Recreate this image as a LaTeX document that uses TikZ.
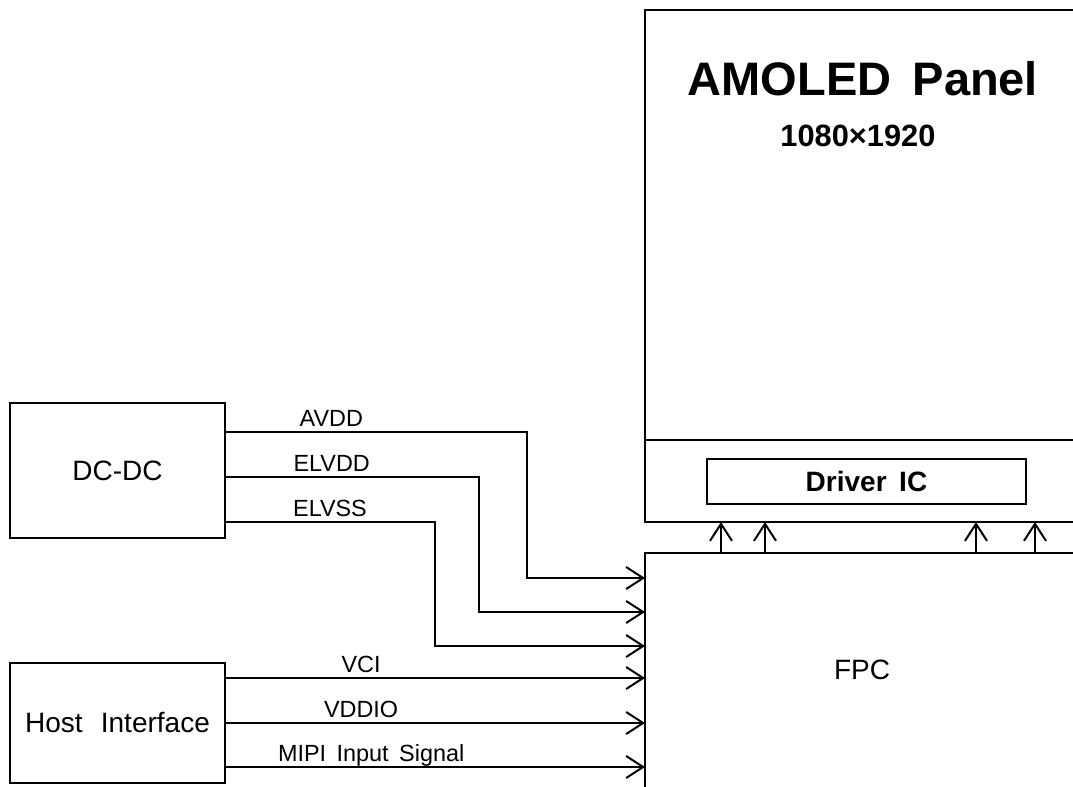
\documentclass[tikz,border=0pt]{standalone}
\usepackage{fontspec}
\setmainfont{Liberation Sans}
\usetikzlibrary{arrows.meta}

\newcommand{\wordgap}{\hspace{0.45em}}
\newcommand{\lblfont}{\fontsize{11.7}{14}\selectfont}
\newcommand{\boxfont}{\fontsize{14}{17}\selectfont}

\begin{document}
\begin{tikzpicture}[x=0.5pt,y=-0.5pt,
    box/.style={draw,rectangle,line width=1pt,inner sep=0pt,outer sep=0pt,font=\boxfont},
    feed/.style={line width=1pt,-{Straight Barb[length=8.5pt,width=11pt]}},
    sig/.style={above,inner sep=2.5pt,text depth=0pt,font=\lblfont}]
  \useasboundingbox (0,0) rectangle (1073,787);

  % panel and fpc run off the right edge
  \node[box,minimum width=222.5pt,minimum height=256pt] (panel) at (867.5,266) {};
  \node[box,minimum width=222.5pt,minimum height=128.5pt] (fpc) at (867.5,681.5) {};
  \draw[line width=1pt] (panel.west |- 0,440) -- (panel.east |- 0,440);
  \node[box,minimum width=159.5pt,minimum height=22.5pt,font=\boxfont\bfseries] (drv) at (866.5,481.5) {Driver\wordgap IC};
  \node[font=\fontsize{23.5}{28}\selectfont\bfseries] (title) at (863,79) {AMOLED\wordgap Panel};
  \node[font=\fontsize{15.4}{18}\selectfont\bfseries] (res) at (858,136) {1080×1920};
  \node[font=\boxfont] (fpclbl) at (862,670) {FPC};

  \node[box,minimum width=107.5pt,minimum height=67.5pt] (dcdc) at (117.5,470.5) {DC-DC};
  \node[box,minimum width=107.5pt,minimum height=60pt] (host) at (117.5,723) {Host\hspace{0.65em}Interface};

  % power rails
  \draw[feed] (dcdc.east |- 0,432) -| node[sig,pos=0.176] {AVDD} (527,578) -- (fpc.west |- 0,578);
  \draw[feed] (dcdc.east |- 0,477) -| node[sig,pos=0.21] {ELVDD} (479,612) -- (fpc.west |- 0,612);
  \draw[feed] (dcdc.east |- 0,522) -| node[sig,pos=0.25] {ELVSS} (435,646) -- (fpc.west |- 0,646);

  % host lines
  \draw[feed] (host.east |- 0,678) -- node[sig,pos=0.324] {VCI} (fpc.west |- 0,678);
  \draw[feed] (host.east |- 0,723) -- node[sig,pos=0.324] {VDDIO} (fpc.west |- 0,723);
  \draw[feed] (host.east |- 0,767) -- node[sig,pos=0.348] {MIPI\wordgap Input\wordgap Signal} (fpc.west |- 0,767);

  \foreach \x in {721,765,976,1035}
    \draw[feed] (fpc.north -| \x,0) -- (panel.south -| \x,0);
\end{tikzpicture}
\end{document}
